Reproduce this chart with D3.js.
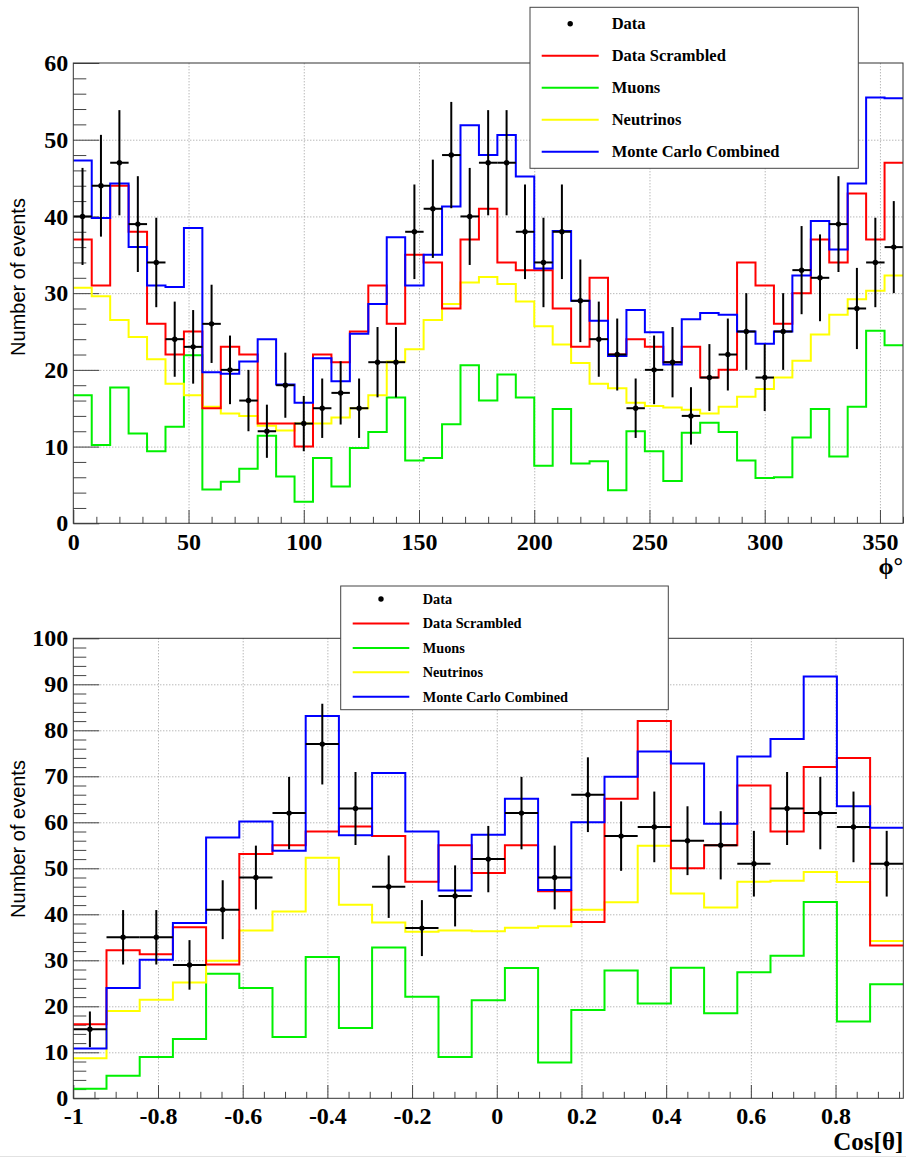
<!DOCTYPE html>
<html><head><meta charset="utf-8">
<script src="https://cdn.jsdelivr.net/npm/d3@7"></script>
<style>
body{margin:0;background:#fff}
svg{display:block}
</style>
</head><body>
<svg id="c" width="906" height="1160"></svg>
<script>
// ---------- Top panel: phi distribution (45 bins, 0-360 deg) ----------
const phiRange = [0, 360];
const phiNBins = 45;
const phiData      = [40,44,47,39,34,24,23,26,20,16,12,18,13,15,17,15,21,21,38,41,48,40,47,47,38,34,38,29,24,22,15,20,21,14,19,22,25,19,25,33,32,39,28,34,36];
const phiScrambled = [37,31,44,38,26,22,25,15,23,22,13,13,10,22,21,25,31,26,35,34,28,37,41,34,33,33,28,23,32,22,24,23,21,23,19,20,34,31,26,30,37,34,43,37,47];
const phiMuons     = [16.7,10.2,17.7,11.7,9.4,12.6,21.9,4.4,5.4,7.1,11.4,6.1,2.8,8.5,4.8,9.8,11.9,16.4,8.2,8.5,12.9,20.6,16,19.4,16.4,7.5,14.9,7.8,8.1,4.3,12,9.4,5.5,11.8,13.1,11.9,8.2,5.9,6,11.2,14.9,8.7,15.2,25.1,23.2];
const phiNeutrinos = [30.7,29.6,26.5,24.3,21.4,18.2,16.7,15.2,14.3,14,12.7,12.1,13,13,13.8,15,16.7,21.1,22.7,26.5,28.6,31.4,32.1,31.2,28.9,25.7,23.3,20.9,18.2,17.6,15.7,15.3,15.1,14.8,14.3,15.2,16.5,17.5,19,21.2,24.6,27.2,29.2,30.3,32.3];
const phiMC        = [47.3,39.8,44.3,36,31,30.8,38.5,19.7,19.5,21.1,24,18.1,15.7,21.5,18.5,24.7,28.6,37.3,31,35,41.3,51.9,48,50.6,45.2,33.2,38.1,29,26.4,21.8,27.8,24.9,20.7,26.6,27.4,27.2,25,23.4,25,32.3,39.4,35.7,44.3,55.5,55.4];
const phiTickValues = [0,50,100,150,200,250,300,350];
const phiTickLabels = ["0","50","100","150","200","250","300","350"];
const countTopTickValues = [0,10,20,30,40,50,60];
const countTopTickLabels = ["0","10","20","30","40","50","60"];

// ---------- Bottom panel: cos(theta) distribution (25 bins, -1 to 0.96) ----------
const cosRange = [-1, 0.96];
const cosNBins = 25;
const cosData      = [15,35,35,29,41,48,62,77,63,46,37,44,52,62,48,66,57,59,56,55,51,63,62,59,51];
const cosScrambled = [16.1,32.2,31.3,37.2,29.1,53.1,55,58,59.1,57,47.1,55,49,55,45,38.3,65.1,82,50,55,68,58,72,74,33.2];
const cosMuons     = [2.1,4.9,9,12.9,27.1,24,13.3,30.7,15.3,32.8,22.1,9,21.3,28.3,7.8,19.2,27.8,20.6,28.4,18.5,27.4,31,42.7,16.7,24.8];
const cosNeutrinos = [8.7,19,21.4,25.2,29.9,36.5,40.6,52.3,42.1,38.2,36.2,36.5,36.3,37.1,37.4,41,42.6,54.9,44.5,41.5,47.1,47.3,49.2,47,34.2];
const cosMC        = [10.8,24,30.1,38.1,56.7,60.2,53.8,83.1,57.2,70.7,58,45.2,57.3,65.1,45.3,60,69.9,75.4,72.8,59.7,74.3,78.1,91.7,63.5,58.8];
const cosTickValues = [-1,-0.8,-0.6,-0.4,-0.2,0,0.2,0.4,0.6,0.8];
const cosTickLabels = ["-1","-0.8","-0.6","-0.4","-0.2","0","0.2","0.4","0.6","0.8"];
const countBottomTickValues = [0,10,20,30,40,50,60,70,80,90,100];
const countBottomTickLabels = ["0","10","20","30","40","50","60","70","80","90","100"];

const legendLabels = ["Data","Data Scrambled","Muons","Neutrinos","Monte Carlo Combined"];
const seriesColors = {scr:"#ff0000", mu:"#00f000", nu:"#ffff00", mc:"#0000ff"};

const svg = d3.select("#c");
const SERIF = "Liberation Serif, Times New Roman, serif";
const SANS = "Liberation Sans, Arial, sans-serif";

function panel(cfg){
  const g = svg.append("g");
  const x = d3.scaleLinear().domain(cfg.xDomain).range([cfg.left, cfg.right]);
  const y = d3.scaleLinear().domain(cfg.yDomain).range([cfg.bottom, cfg.top]);
  const W = cfg.right - cfg.left, H = cfg.bottom - cfg.top;

  // grid (dotted)
  const gx = g.append("g").attr("transform",`translate(0,${cfg.bottom})`)
    .call(d3.axisBottom(x).tickValues(cfg.xTicks.filter(v=>v!==cfg.xDomain[0])).tickSize(-H).tickFormat(""));
  const gy = g.append("g").attr("transform",`translate(${cfg.left},0)`)
    .call(d3.axisLeft(y).tickValues(cfg.yTicks.filter(v=>v!==cfg.yDomain[0] && v!==cfg.yDomain[1])).tickSize(-W).tickFormat(""));
  [gx,gy].forEach(a=>{
    a.select(".domain").remove();
    a.selectAll("line").attr("stroke","#9a9a9a").attr("stroke-width",1).attr("stroke-dasharray","1,2");
  });

  // minor ticks
  const xMin = g.append("g").attr("transform",`translate(0,${cfg.bottom})`)
    .call(d3.axisBottom(x).tickValues(cfg.xMinor).tickSize(-6.5).tickFormat(""));
  const yMin = g.append("g").attr("transform",`translate(${cfg.left},0)`)
    .call(d3.axisLeft(y).tickValues(cfg.yMinor).tickSize(-13).tickFormat(""));
  // major ticks with labels
  const xMaj = g.append("g").attr("transform",`translate(0,${cfg.bottom})`)
    .call(d3.axisBottom(x).tickValues(cfg.xTicks).tickSize(-13.3).tickPadding(cfg.xPad)
      .tickFormat((d,i)=>cfg.xLabels[i]));
  const yMaj = g.append("g").attr("transform",`translate(${cfg.left},0)`)
    .call(d3.axisLeft(y).tickValues(cfg.yTicks).tickSize(-26).tickPadding(5)
      .tickFormat((d,i)=>cfg.yLabels[i]));
  [xMin,yMin,xMaj,yMaj].forEach(a=>{
    a.select(".domain").remove();
    a.attr("font-family",SERIF).attr("font-size",24).attr("font-weight","bold");
    a.selectAll("line").attr("stroke","#444").attr("stroke-width",1);
    a.selectAll("text").attr("fill","#000").attr("font-family",SERIF)
      .attr("font-weight","bold").attr("font-size",24);
  });

  // histograms
  const edges = d3.range(cfg.nBins+1).map(i => cfg.xDomain[0] + i*(cfg.binHi - cfg.xDomain[0])/cfg.nBins);
  const stepLine = d3.line().x(d=>x(d[0])).y(d=>y(d[1])).curve(d3.curveStepAfter);
  function hist(vals,color){
    const pts = vals.map((v,i)=>[edges[i],v]);
    pts.push([edges[vals.length], vals[vals.length-1]]);
    g.append("path").attr("d",stepLine(pts)).attr("fill","none")
      .attr("stroke",color).attr("stroke-width",2);
  }
  hist(cfg.series.mu, seriesColors.mu);
  hist(cfg.series.nu, seriesColors.nu);
  hist(cfg.series.scr, seriesColors.scr);
  hist(cfg.series.mc, seriesColors.mc);

  // data with errors
  const dg = g.append("g");
  cfg.series.data.forEach((v,i)=>{
    const xc = (edges[i]+edges[i+1])/2, e = Math.sqrt(v);
    dg.append("line").attr("x1",x(edges[i])).attr("x2",x(edges[i+1])).attr("y1",y(v)).attr("y2",y(v))
      .attr("stroke","#000").attr("stroke-width",2);
    dg.append("line").attr("x1",x(xc)).attr("x2",x(xc)).attr("y1",y(v-e)).attr("y2",y(v+e))
      .attr("stroke","#000").attr("stroke-width",2);
    dg.append("circle").attr("cx",x(xc)).attr("cy",y(v)).attr("r",2.7).attr("fill","#000");
  });

  // frame
  g.append("rect").attr("x",cfg.left).attr("y",cfg.top).attr("width",W).attr("height",H)
    .attr("fill","none").attr("stroke","#333").attr("stroke-width",1);

  // axis titles
  g.append("text").attr("transform",`translate(25,${cfg.yTitleY}) rotate(-90)`)
    .attr("text-anchor","middle").attr("font-family",SANS).attr("font-size",20)
    .attr("fill","#000").text("Number of events");
  g.append("text").attr("x",cfg.right).attr("y",cfg.xTitleY).attr("text-anchor","end")
    .attr("font-family",SERIF).attr("font-weight","bold").attr("font-size",cfg.xTitleSize)
    .attr("fill","#000").text(cfg.xTitle);

  // legend
  const L = cfg.legend;
  const lg = g.append("g");
  lg.append("rect").attr("x",L.x).attr("y",L.y).attr("width",L.w).attr("height",L.h)
    .attr("fill","#fff").attr("stroke","#444").attr("stroke-width",1);
  const cols = [null, seriesColors.scr, seriesColors.mu, seriesColors.nu, seriesColors.mc];
  legendLabels.forEach((lab,i)=>{
    const yy = L.y0 + i*L.dy;
    if(i===0){
      lg.append("circle").attr("cx",(L.lx0+L.lx1)/2).attr("cy",yy).attr("r",2.7).attr("fill","#000");
    } else {
      lg.append("line").attr("x1",L.lx0).attr("x2",L.lx1).attr("y1",yy).attr("y2",yy)
        .attr("stroke",cols[i]).attr("stroke-width",2);
    }
    lg.append("text").attr("x",L.tx).attr("y",yy).attr("dy","0.35em")
      .attr("font-family",SERIF).attr("font-weight","bold").attr("font-size",L.fs)
      .attr("fill","#000").text(lab);
  });
}

panel({
  left:73.3, right:903, top:63, bottom:523.3,
  xDomain:[phiRange[0], phiRange[1]], binHi:phiRange[1], nBins:phiNBins,
  yDomain:[0,60],
  xTicks:phiTickValues, xLabels:phiTickLabels, xMinor:d3.range(0,361,10).filter(v=>v%50!==0),
  yTicks:countTopTickValues, yLabels:countTopTickLabels, yMinor:d3.range(0,61,2).filter(v=>v%10!==0),
  xPad:9.5,
  series:{data:phiData, scr:phiScrambled, mu:phiMuons, nu:phiNeutrinos, mc:phiMC},
  yTitleY:277, xTitle:"\u03D5\u00B0", xTitleY:574, xTitleSize:24,
  legend:{x:530, y:7.3, w:328.3, h:161, y0:23.7, dy:32, lx0:541.7, lx1:598.7, tx:611.7, fs:16.5}
});

panel({
  left:73.3, right:903.3, top:638.3, bottom:1098.3,
  xDomain:[cosRange[0], cosRange[1]], binHi:cosRange[1], nBins:cosNBins,
  yDomain:[0,100],
  xTicks:cosTickValues, xLabels:cosTickLabels,
  xMinor:d3.range(-1,0.961,0.05).map(v=>Math.round(v*100)/100).filter(v=>Math.abs(Math.round(v*100))%20!==0),
  yTicks:countBottomTickValues, yLabels:countBottomTickLabels, yMinor:d3.range(0,101,2).filter(v=>v%10!==0),
  xPad:8.5,
  series:{data:cosData, scr:cosScrambled, mu:cosMuons, nu:cosNeutrinos, mc:cosMC},
  yTitleY:839, xTitle:"Cos[\u03B8]", xTitleY:1150, xTitleSize:25,
  legend:{x:340.7, y:586, w:327.6, h:123.7, y0:599, dy:24.45, lx0:352.7, lx1:409.3, tx:422.7, fs:14.3}
});

svg.append("line").attr("x1",0).attr("x2",906).attr("y1",1156.5).attr("y2",1156.5)
  .attr("stroke","#e2e2e2").attr("stroke-width",1);
</script>
</body></html>
